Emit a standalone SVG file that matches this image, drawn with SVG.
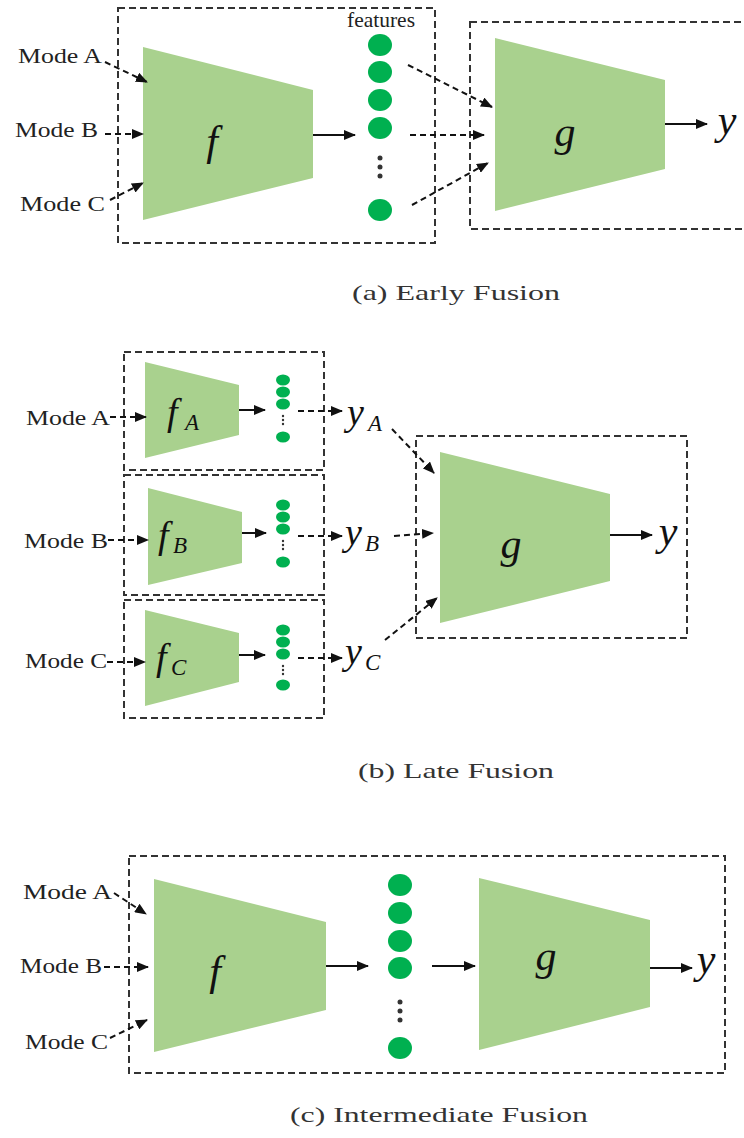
<svg xmlns="http://www.w3.org/2000/svg" width="744" height="1138" viewBox="0 0 744 1138">
<style>
.box{fill:none;stroke:#333;stroke-width:2;stroke-dasharray:7,4}
.trap{fill:#a9d18e}
.dot{fill:#00b050}
.lbl{font-family:"Liberation Serif",serif;font-size:21px;fill:#222}
.cap{font-family:"Liberation Serif",serif;font-size:22px;fill:#333}
.math{font-family:"Liberation Serif",serif;font-style:italic;fill:#111}
.solid{stroke:#111;stroke-width:2;fill:none;marker-end:url(#ah)}
.dash{stroke:#111;stroke-width:2;fill:none;stroke-dasharray:6,4;marker-end:url(#ah)}
.vd{fill:#333}
</style>
<defs>
<marker id="ah" markerUnits="userSpaceOnUse" markerWidth="12" markerHeight="10" refX="11" refY="5" orient="auto">
<path d="M0,0 L12,5 L0,10 Z" fill="#111"/>
</marker>
</defs>
<rect width="744" height="1138" fill="#fff"/>

<!-- Panel (a) -->
<g id="a-encoder-box"><rect class="box" x="118" y="8" width="317" height="235"/></g>
<g id="a-fusion-box"><rect class="box" x="470" y="22" width="280" height="207"/></g>
<g id="a-mode-a"><text class="lbl" x="18" y="63" textLength="84" lengthAdjust="spacingAndGlyphs">Mode A</text></g>
<g id="a-mode-b"><text class="lbl" x="15" y="137" textLength="83" lengthAdjust="spacingAndGlyphs">Mode B</text></g>
<g id="a-mode-c"><text class="lbl" x="20" y="211" textLength="85" lengthAdjust="spacingAndGlyphs">Mode C</text></g>
<g id="a-f">
<polygon class="trap" points="143,47 313,90 313,178 143,220"/>
<text class="math" x="212" y="155" font-size="42" text-anchor="middle">f</text>
</g>
<g id="a-features">
<text class="lbl" x="347" y="27" font-size="17" textLength="68" lengthAdjust="spacingAndGlyphs">features</text>
<ellipse class="dot" cx="380" cy="45" rx="12" ry="11"/>
<ellipse class="dot" cx="380" cy="72" rx="12" ry="11"/>
<ellipse class="dot" cx="380" cy="100" rx="12" ry="11"/>
<ellipse class="dot" cx="380" cy="128" rx="12" ry="11"/>
<circle class="vd" cx="380" cy="158" r="2.5"/>
<circle class="vd" cx="380" cy="167" r="2.5"/>
<circle class="vd" cx="380" cy="176" r="2.5"/>
<ellipse class="dot" cx="380" cy="210" rx="12" ry="11"/>
</g>
<g id="a-g">
<polygon class="trap" points="495,38 665,80 665,169 495,211"/>
<text class="math" x="565" y="146" font-size="42" text-anchor="middle">g</text>
</g>
<g id="a-y"><text class="math" x="727" y="134" font-size="42" text-anchor="middle">y</text></g>
<text class="cap" x="352" y="300" textLength="208" lengthAdjust="spacingAndGlyphs">(a) Early Fusion</text>

<!-- Panel (b) -->
<g id="b-box-a"><rect class="box" x="124" y="352" width="200" height="118"/></g>
<g id="b-box-b"><rect class="box" x="124" y="475" width="200" height="120"/></g>
<g id="b-box-c"><rect class="box" x="124" y="600" width="200" height="118"/></g>
<g id="b-box-g"><rect class="box" x="416" y="436" width="271" height="202"/></g>
<g id="b-mode-a"><text class="lbl" x="26" y="425" textLength="84" lengthAdjust="spacingAndGlyphs">Mode A</text></g>
<g id="b-mode-b"><text class="lbl" x="24" y="548" textLength="84" lengthAdjust="spacingAndGlyphs">Mode B</text></g>
<g id="b-mode-c"><text class="lbl" x="25" y="668" textLength="82" lengthAdjust="spacingAndGlyphs">Mode C</text></g>
<g id="b-fa">
<polygon class="trap" points="145,362 239,385 239,435 145,458"/>
<text class="math" x="167" y="425" font-size="38">f</text>
<text class="math" x="185" y="430" font-size="23">A</text>
</g>
<g id="b-fb">
<polygon class="trap" points="148,488 242,512 242,563 148,585"/>
<text class="math" x="158" y="548" font-size="38">f</text>
<text class="math" x="173" y="553" font-size="23">B</text>
</g>
<g id="b-fc">
<polygon class="trap" points="145,610 239,633 239,682 145,706"/>
<text class="math" x="156" y="670" font-size="38">f</text>
<text class="math" x="171" y="675" font-size="23">C</text>
</g>
<g id="b-feat-a">
<ellipse class="dot" cx="283" cy="380" rx="7" ry="5.5"/>
<ellipse class="dot" cx="283" cy="392" rx="7" ry="5.5"/>
<ellipse class="dot" cx="283" cy="404" rx="7" ry="5.5"/>
<circle class="vd" cx="283" cy="416" r="1.2"/><circle class="vd" cx="283" cy="420" r="1.2"/><circle class="vd" cx="283" cy="424" r="1.2"/>
<ellipse class="dot" cx="283" cy="437" rx="7" ry="5.5"/>
</g>
<g id="b-feat-b">
<ellipse class="dot" cx="283" cy="505" rx="7" ry="5.5"/>
<ellipse class="dot" cx="283" cy="517" rx="7" ry="5.5"/>
<ellipse class="dot" cx="283" cy="529" rx="7" ry="5.5"/>
<circle class="vd" cx="283" cy="541" r="1.2"/><circle class="vd" cx="283" cy="545" r="1.2"/><circle class="vd" cx="283" cy="549" r="1.2"/>
<ellipse class="dot" cx="283" cy="562" rx="7" ry="5.5"/>
</g>
<g id="b-feat-c">
<ellipse class="dot" cx="283" cy="630" rx="7" ry="5.5"/>
<ellipse class="dot" cx="283" cy="642" rx="7" ry="5.5"/>
<ellipse class="dot" cx="283" cy="654" rx="7" ry="5.5"/>
<circle class="vd" cx="283" cy="666" r="1.2"/><circle class="vd" cx="283" cy="670" r="1.2"/><circle class="vd" cx="283" cy="674" r="1.2"/>
<ellipse class="dot" cx="283" cy="685" rx="7" ry="5.5"/>
</g>
<g id="b-ya"><text class="math" x="347" y="425" font-size="38">y</text><text class="math" x="368" y="431" font-size="23">A</text></g>
<g id="b-yb"><text class="math" x="345" y="545" font-size="38">y</text><text class="math" x="365" y="551" font-size="23">B</text></g>
<g id="b-yc"><text class="math" x="345" y="664" font-size="38">y</text><text class="math" x="365" y="670" font-size="23">C</text></g>
<g id="b-g">
<polygon class="trap" points="440,452 610,494 610,581 440,623"/>
<text class="math" x="511" y="558" font-size="42" text-anchor="middle">g</text>
</g>
<g id="b-y"><text class="math" x="668" y="545" font-size="42" text-anchor="middle">y</text></g>
<text class="cap" x="358" y="778" textLength="196" lengthAdjust="spacingAndGlyphs">(b) Late Fusion</text>

<!-- Panel (c) -->
<g id="c-box"><rect class="box" x="129" y="856" width="596" height="217"/></g>
<g id="c-mode-a"><text class="lbl" x="23" y="899" textLength="89" lengthAdjust="spacingAndGlyphs">Mode A</text></g>
<g id="c-mode-b"><text class="lbl" x="20" y="973" textLength="82" lengthAdjust="spacingAndGlyphs">Mode B</text></g>
<g id="c-mode-c"><text class="lbl" x="25" y="1049" textLength="83" lengthAdjust="spacingAndGlyphs">Mode C</text></g>
<g id="c-f">
<polygon class="trap" points="154,879 326,922 326,1010 154,1052"/>
<text class="math" x="215" y="985" font-size="42" text-anchor="middle">f</text>
</g>
<g id="c-features">
<ellipse class="dot" cx="400" cy="885" rx="12" ry="11"/>
<ellipse class="dot" cx="400" cy="913" rx="12" ry="11"/>
<ellipse class="dot" cx="400" cy="941" rx="12" ry="11"/>
<ellipse class="dot" cx="400" cy="968" rx="12" ry="11"/>
<circle class="vd" cx="400" cy="1002" r="2.5"/>
<circle class="vd" cx="400" cy="1011" r="2.5"/>
<circle class="vd" cx="400" cy="1020" r="2.5"/>
<ellipse class="dot" cx="400" cy="1048" rx="12" ry="11"/>
</g>
<g id="c-g">
<polygon class="trap" points="479,878 650,920 650,1007 479,1050"/>
<text class="math" x="546" y="970" font-size="42" text-anchor="middle">g</text>
</g>
<g id="c-y"><text class="math" x="706" y="973" font-size="42" text-anchor="middle">y</text></g>
<text class="cap" x="290" y="1122" textLength="298" lengthAdjust="spacingAndGlyphs">(c) Intermediate Fusion</text>

<g id="connectors">
<!-- (a) -->
<path class="dash" d="M105,62 L147,82"/>
<path class="dash" d="M105,134 L143,134"/>
<path class="dash" d="M110,200 L143,183"/>
<path class="solid" d="M313,135 L355,135"/>
<path class="dash" d="M408,65 L492,107"/>
<path class="dash" d="M410,135 L484,135"/>
<path class="dash" d="M412,205 L488,163"/>
<path class="solid" d="M665,124 L707,124"/>
<!-- (b) -->
<path class="dash" d="M110,417 L146,417"/>
<path class="dash" d="M108,540 L148,540"/>
<path class="dash" d="M107,662 L145,662"/>
<path class="solid" d="M239,410 L265,410"/>
<path class="solid" d="M242,533 L266,533"/>
<path class="solid" d="M239,655 L265,655"/>
<path class="dash" d="M298,411 L342,411"/>
<path class="dash" d="M298,536 L342,536"/>
<path class="dash" d="M298,658 L342,658"/>
<path class="dash" d="M392,429 L434,473"/>
<path class="dash" d="M394,536 L433,533"/>
<path class="dash" d="M385,640 L437,598"/>
<path class="solid" d="M610,535 L652,535"/>
<!-- (c) -->
<path class="dash" d="M114,893 L146,914"/>
<path class="dash" d="M104,967 L148,967"/>
<path class="dash" d="M110,1038 L147,1020"/>
<path class="solid" d="M326,966 L368,966"/>
<path class="solid" d="M432,966 L475,966"/>
<path class="solid" d="M650,968 L692,968"/>
</g>
</svg>
